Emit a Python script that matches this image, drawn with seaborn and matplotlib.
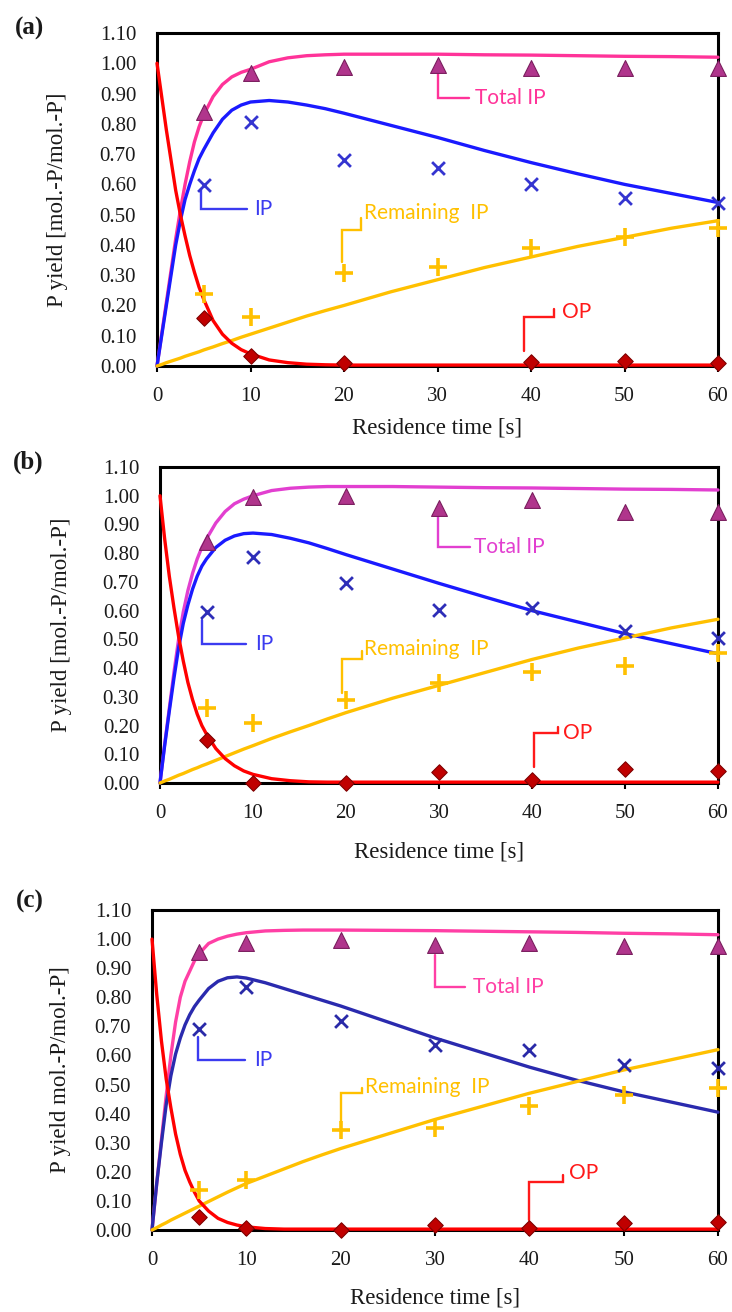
import matplotlib
matplotlib.use("Agg")
import matplotlib.pyplot as plt
import seaborn as sns
import numpy as np

nan = np.nan

# ---------------- data ----------------
T_MEAS = [5, 10, 20, 30, 40, 50, 60]
T_CURVE = [0, 0.5, 1, 1.5, 2, 2.5, 3, 3.5, 4, 4.5, 5, 6, 7, 8, 9, 10, 12, 14, 16, 18, 20,
           25, 30, 35, 40, 45, 50, 55, 60]
X_TICKS = [0, 10, 20, 30, 40, 50, 60]
Y_TICKS = [0.0, 0.1, 0.2, 0.3, 0.4, 0.5, 0.6, 0.7, 0.8, 0.9, 1.0, 1.1]
PANEL_LABELS = ["(a)", "(b)", "(c)"]
Y_LABELS = ["P yield [mol.-P/mol.-P]", "P yield [mol.-P/mol.-P]", "P yield mol.-P/mol.-P]"]
X_LABEL = "Residence time [s]"
SERIES_NAMES = ["Total IP", "IP", "Remaining  IP", "OP"]

# panel (a) measured
A_TOTAL_M = [0.84, 0.967, 0.988, 0.993, 0.983, 0.983, 0.983]
A_IP_M = [0.597, 0.806, 0.68, 0.653, 0.60, 0.555, 0.54]
A_REM_M = [0.237, 0.163, 0.307, 0.328, 0.39, 0.427, 0.455]
A_OP_M = [0.16, 0.033, 0.011, nan, 0.012, 0.017, 0.01]
# panel (a) model curves
A_TOTAL_C = [0, 0.105, 0.21, 0.315, 0.42, 0.515, 0.60, 0.675, 0.74, 0.79, 0.83, 0.89, 0.93, 0.955,
             0.97, 0.98, 1.005, 1.018, 1.025, 1.028, 1.03, 1.03, 1.03, 1.028, 1.027, 1.025, 1.023,
             1.022, 1.02]
A_IP_C = [0, 0.10, 0.20, 0.30, 0.40, 0.48, 0.55, 0.60, 0.645, 0.685, 0.715, 0.77, 0.815, 0.845,
          0.862, 0.872, 0.877, 0.872, 0.862, 0.85, 0.835, 0.795, 0.755, 0.712, 0.672, 0.635, 0.60,
          0.57, 0.54]
A_REM_C = [0, 0.005, 0.011, 0.016, 0.021, 0.026, 0.032, 0.037, 0.042, 0.047, 0.053, 0.063, 0.074,
           0.084, 0.095, 0.105, 0.125, 0.145, 0.165, 0.183, 0.20, 0.245, 0.285, 0.325, 0.36, 0.395,
           0.425, 0.455, 0.48]
A_OP_C = [1.00, 0.89, 0.78, 0.68, 0.58, 0.50, 0.43, 0.365, 0.31, 0.26, 0.22, 0.15, 0.105, 0.075,
          0.054, 0.040, 0.020, 0.011, 0.006, 0.004, 0.003, 0.003, 0.003, 0.003, 0.003, 0.003, 0.003,
          0.003, 0.003]

# panel (b) measured
B_TOTAL_M = [0.84, 0.997, 1.00, 0.958, 0.986, 0.944, 0.944]
B_IP_M = [0.596, 0.787, 0.697, 0.603, 0.61, 0.53, 0.505]
B_REM_M = [0.26, 0.208, 0.29, 0.348, 0.388, 0.408, 0.452]
B_OP_M = [0.15, 0.0, 0.0, 0.038, 0.01, 0.049, 0.042]
# panel (b) model curves
B_TOTAL_C = [0, 0.135, 0.26, 0.385, 0.50, 0.595, 0.67, 0.73, 0.78, 0.82, 0.85, 0.905, 0.945, 0.972,
             0.988, 1.0, 1.018, 1.026, 1.03, 1.032, 1.032, 1.032, 1.03, 1.028, 1.027, 1.025, 1.023,
             1.022, 1.02]
B_IP_C = [0, 0.13, 0.25, 0.365, 0.47, 0.555, 0.62, 0.675, 0.72, 0.755, 0.78, 0.82, 0.845, 0.86,
          0.868, 0.87, 0.865, 0.852, 0.836, 0.816, 0.795, 0.745, 0.695, 0.647, 0.60, 0.56, 0.52,
          0.485, 0.45]
B_REM_C = [0, 0.007, 0.013, 0.02, 0.027, 0.033, 0.04, 0.047, 0.053, 0.06, 0.066, 0.079, 0.092,
           0.105, 0.118, 0.13, 0.155, 0.178, 0.20, 0.223, 0.245, 0.295, 0.34, 0.385, 0.43, 0.47,
           0.505, 0.54, 0.57]
B_OP_C = [1.00, 0.85, 0.72, 0.61, 0.51, 0.425, 0.35, 0.29, 0.24, 0.20, 0.17, 0.12, 0.085, 0.06,
          0.042, 0.03, 0.015, 0.008, 0.004, 0.003, 0.003, 0.003, 0.003, 0.003, 0.003, 0.003, 0.003,
          0.003, 0.003]

# panel (c) measured
C_TOTAL_M = [0.956, 0.986, 0.997, 0.98, 0.986, 0.976, 0.976]
C_IP_M = [0.69, 0.835, 0.72, 0.635, 0.618, 0.567, 0.556]
C_REM_M = [0.137, 0.172, 0.344, 0.35, 0.426, 0.464, 0.488]
C_OP_M = [0.045, 0.007, 0.0, 0.017, 0.007, 0.023, 0.027]
# panel (c) model curves
C_TOTAL_C = [0, 0.16, 0.31, 0.46, 0.60, 0.715, 0.80, 0.855, 0.89, 0.925, 0.95, 0.985, 1.0, 1.01,
             1.017, 1.022, 1.028, 1.03, 1.031, 1.031, 1.031, 1.03, 1.029, 1.027, 1.025, 1.023, 1.02,
             1.018, 1.015]
C_IP_C = [0, 0.16, 0.30, 0.43, 0.53, 0.605, 0.66, 0.705, 0.74, 0.768, 0.79, 0.83, 0.855, 0.867,
          0.87, 0.866, 0.85, 0.83, 0.81, 0.79, 0.77, 0.715, 0.66, 0.61, 0.56, 0.515, 0.475, 0.44,
          0.405]
C_REM_C = [0, 0.008, 0.017, 0.025, 0.034, 0.042, 0.05, 0.058, 0.066, 0.074, 0.082, 0.098, 0.114,
           0.13, 0.145, 0.16, 0.185, 0.21, 0.235, 0.258, 0.28, 0.33, 0.38, 0.425, 0.47, 0.51, 0.55,
           0.585, 0.62]
C_OP_C = [1.00, 0.81, 0.65, 0.52, 0.42, 0.33, 0.26, 0.205, 0.165, 0.13, 0.10, 0.065, 0.04, 0.026,
          0.017, 0.011, 0.005, 0.003, 0.003, 0.003, 0.003, 0.003, 0.003, 0.003, 0.003, 0.003, 0.003,
          0.003, 0.003]

# callout leaders (data coords) and label anchor per series: Total IP, IP, Remaining IP, OP
A_CALLOUTS = [([30, 30, 33.4], [0.975, 0.885, 0.885], (34.0, 0.885)),
              ([4.7, 4.7, 9.6], [0.585, 0.52, 0.52], (10.4, 0.52)),
              ([19.8, 19.8, 21.8, 21.8], [0.343, 0.449, 0.449, 0.49], (22.1, 0.505)),
              ([39.3, 39.3, 42.5, 42.5], [0.05, 0.162, 0.162, 0.188], (43.3, 0.178))]
B_CALLOUTS = [([29.9, 29.9, 33.3], [0.925, 0.822, 0.822], (33.8, 0.822)),
              ([4.5, 4.5, 9.3], [0.568, 0.484, 0.484], (10.2, 0.484)),
              ([19.6, 19.6, 21.7, 21.7], [0.313, 0.43, 0.43, 0.46], (21.9, 0.467)),
              ([40.2, 40.2, 42.8, 42.8], [0.056, 0.174, 0.174, 0.195], (43.3, 0.174))]
C_CALLOUTS = [([30.0, 30.0, 33.2], [0.945, 0.835, 0.835], (34.0, 0.835)),
              ([4.9, 4.9, 9.9], [0.663, 0.584, 0.584], (10.8, 0.584)),
              ([20.0, 20.0, 22.3, 22.3], [0.371, 0.47, 0.47, 0.488], (22.6, 0.49)),
              ([40.0, 40.0, 43.6, 43.6], [0.034, 0.165, 0.165, 0.19], (44.2, 0.196))]

# ---------------- styling ----------------
sns.set_style("white")
plt.rcParams["font.family"] = ["Liberation Serif", "DejaVu Serif"]

PANELS = [
    dict(meas=[A_TOTAL_M, A_IP_M, A_REM_M, A_OP_M], curves=[A_TOTAL_C, A_IP_C, A_REM_C, A_OP_C],
         callouts=A_CALLOUTS, rect=[157 / 732, 1 - 366 / 1312, 561 / 732, 333 / 1312],
         line_colors=["#FF3399", "#1A1AFF", "#FFC000", "#FF0000"],
         text_colors=["#FF3399", "#3B3BF0", "#FFC000", "#FF1A1A"],
         xmark="#3535D0", ylab_x=-0.178, xlab_y=-0.186, tag=(29, 28)),
    dict(meas=[B_TOTAL_M, B_IP_M, B_REM_M, B_OP_M], curves=[B_TOTAL_C, B_IP_C, B_REM_C, B_OP_C],
         callouts=B_CALLOUTS, rect=[160 / 732, 1 - 783 / 1312, 558 / 732, 316 / 1312],
         line_colors=["#E23FD0", "#1A1AFF", "#FFC000", "#FF0000"],
         text_colors=["#E23FD0", "#3B3BF0", "#FFC000", "#FF1A1A"],
         xmark="#2E2EB8", ylab_x=-0.176, xlab_y=-0.218, tag=(28, 462)),
    dict(meas=[C_TOTAL_M, C_IP_M, C_REM_M, C_OP_M], curves=[C_TOTAL_C, C_IP_C, C_REM_C, C_OP_C],
         callouts=C_CALLOUTS, rect=[152 / 732, 1 - 1230 / 1312, 566 / 732, 320 / 1312],
         line_colors=["#FF3FA5", "#2A2AAE", "#FFC000", "#FF0000"],
         text_colors=["#FF3FA5", "#3B3BF0", "#FFC000", "#FF1A1A"],
         xmark="#2A2AA8", ylab_x=-0.161, xlab_y=-0.2125, tag=(30, 901)),
]

fig = plt.figure(figsize=(7.32, 13.12), dpi=100)
fig.patch.set_facecolor("white")

for i, p in enumerate(PANELS):
    ax = fig.add_axes(p["rect"])
    ax.set_facecolor("white")
    tot_m, ip_m, rem_m, op_m = p["meas"]

    # model curves
    for vals, col in zip(p["curves"], p["line_colors"]):
        sns.lineplot(x=T_CURVE, y=vals, color=col, linewidth=2.4, ax=ax,
                     clip_on=False, zorder=3, legend=False, solid_joinstyle="round")

    # measured points
    sns.scatterplot(x=T_MEAS, y=tot_m, marker="^", s=130, color="#B0358C",
                    edgecolor="#7A1E5E", linewidth=0.8, ax=ax, clip_on=False, zorder=5, legend=False)
    sns.scatterplot(x=T_MEAS, y=ip_m, marker="x", s=85, color=p["xmark"],
                    linewidth=2.0, ax=ax, clip_on=False, zorder=5, legend=False)
    sns.scatterplot(x=T_MEAS, y=rem_m, marker="+", s=150, color="#FFC000",
                    linewidth=2.6, ax=ax, clip_on=False, zorder=5, legend=False)
    sns.scatterplot(x=T_MEAS, y=op_m, marker="D", s=62, color="#C00000",
                    edgecolor="#7F0000", linewidth=0.8, ax=ax, clip_on=False, zorder=5, legend=False)

    # callouts
    for name, (xs, ys, (tx, ty)), tc in zip(SERIES_NAMES, p["callouts"], p["text_colors"]):
        ax.plot(xs, ys, color=tc, linewidth=1.7, solid_joinstyle="miter", zorder=4)
        ax.text(tx, ty, name, color=tc, fontsize=15, family=["Lato", "DejaVu Sans"],
                ha="left", va="center", zorder=6)

    ax.set_xlim(0, 60)
    ax.set_ylim(0, 1.1)
    ax.set_xticks(X_TICKS)
    ax.set_xticklabels([str(v) for v in X_TICKS])
    ax.set_yticks(Y_TICKS)
    ax.set_yticklabels([f"{v:.2f}" for v in Y_TICKS])
    ax.tick_params(axis="x", direction="out", length=4, width=1.5, color="black",
                   pad=11, labelsize=15, labelcolor="#1a1a1a", bottom=True)
    ax.tick_params(axis="y", length=0, pad=15, labelsize=15, labelcolor="#1a1a1a", left=True)
    for s in ax.spines.values():
        s.set_linewidth(2.2)
        s.set_color("black")
        s.set_zorder(2.5)

    ax.set_ylabel(Y_LABELS[i], fontsize=16.5, color="#1a1a1a")
    ax.yaxis.set_label_coords(p["ylab_x"], 0.5)
    ax.yaxis.label.set_va("center")
    ax.set_xlabel(X_LABEL, fontsize=16.5, color="#1a1a1a")
    ax.xaxis.set_label_coords(0.5, p["xlab_y"])
    ax.xaxis.label.set_va("center")
    ax.grid(False)

    tx, ty = p["tag"]
    fig.text(tx / 732, 1 - ty / 1312, PANEL_LABELS[i], fontsize=18, fontweight="bold",
             ha="center", va="center", color="#1a1a1a")

fig.savefig("out.png", dpi=100, facecolor="white")
